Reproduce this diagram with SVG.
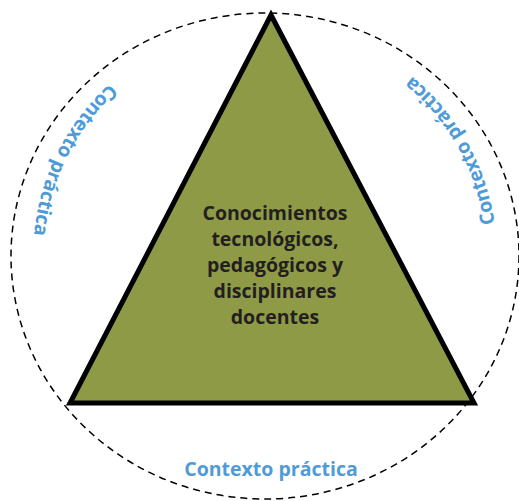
<svg xmlns="http://www.w3.org/2000/svg" width="519" height="501" viewBox="0 0 519 501">
<style>
.ctx{font-family:"Open Sans","Liberation Sans",sans-serif;font-weight:bold;font-size:19.5px;fill:#4f9bd8}
.main{font-family:"Open Sans","Liberation Sans",sans-serif;font-weight:bold;font-size:19.5px;fill:#231f20;text-anchor:middle}
</style>
<defs>
<path id="pl" d="M109.8,83.6 A232,232 0 0 0 64.1,372"/>
<path id="pr" d="M494.7,223.7 A232,232 0 0 0 224.7,27.5"/>
</defs>
<rect width="519" height="501" fill="#fff"/>
<g id="context-circle">
<ellipse cx="265" cy="256" rx="254" ry="243" fill="none" stroke="#000" stroke-width="1.5" stroke-dasharray="7,5"/>
</g>
<g id="triangle">
<polygon points="271,15 70,403 474,403" fill="#8f9a46" stroke="#000" stroke-width="5" stroke-linejoin="miter"/>
<text class="main" x="275" y="220">Conocimientos</text>
<text class="main" x="275" y="246">tecnológicos,</text>
<text class="main" x="275" y="272">pedagógicos y</text>
<text class="main" x="275" y="298">disciplinares</text>
<text class="main" x="275" y="324">docentes</text>
</g>
<g id="label-left"><text class="ctx"><textPath href="#pl">Contexto práctica</textPath></text></g>
<g id="label-right"><text class="ctx"><textPath href="#pr">Contexto práctica</textPath></text></g>
<g id="label-bottom"><text class="ctx" x="271" y="476" text-anchor="middle">Contexto práctica</text></g>
<g id="connectors"/>
</svg>
